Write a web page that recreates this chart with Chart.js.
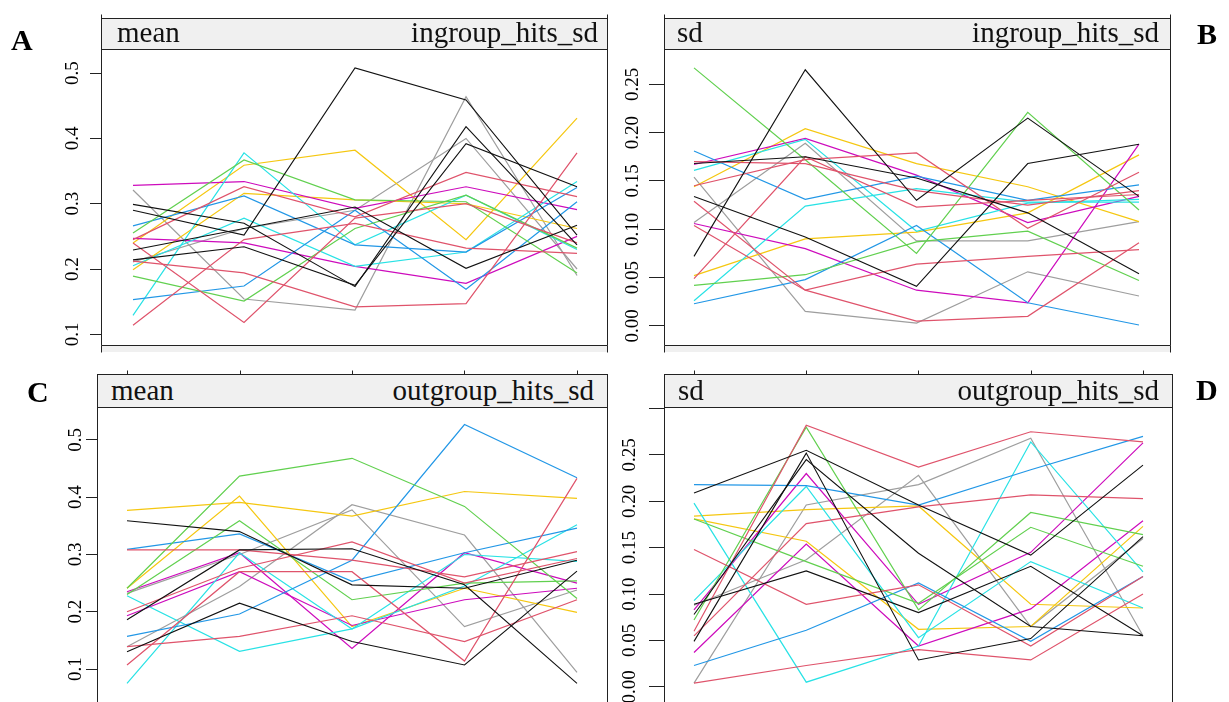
<!DOCTYPE html>
<html><head><meta charset="utf-8">
<script src="https://cdn.jsdelivr.net/npm/chart.js@4.4.0/dist/chart.umd.min.js"></script>
<style>
html,body{margin:0;padding:0;background:#fff;width:1229px;height:702px;overflow:hidden;position:relative}
canvas{position:absolute}
.strip{position:absolute;box-sizing:border-box;border:1px solid #222;background:#f0f0f0;overflow:visible}
.st{position:absolute;font-family:"Liberation Serif","Times New Roman",serif;font-size:29px;line-height:29px;color:#111;white-space:nowrap}
.letter{position:absolute;font-family:"Liberation Serif","Times New Roman",serif;font-weight:bold;font-size:30px;line-height:30px;color:#000}
</style></head><body>

<canvas id="cA" width="600" height="360" style="left:40px;top:0px"></canvas>
<canvas id="cB" width="600" height="360" style="left:600px;top:0px"></canvas>
<canvas id="cC" width="600" height="360" style="left:40px;top:360px"></canvas>
<canvas id="cD" width="600" height="360" style="left:600px;top:360px"></canvas>

<div class="strip" style="left:101px;top:18px;width:507px;height:32px"><span class="st" style="left:15px;top:-1.3px">mean</span><span class="st" style="right:9px;top:-1.3px">ingroup_hits_sd</span></div>
<div class="strip" style="left:664px;top:18px;width:507px;height:32px"><span class="st" style="left:12px;top:-1.3px">sd</span><span class="st" style="right:11px;top:-1.3px">ingroup_hits_sd</span></div>
<div class="strip" style="left:97px;top:374px;width:511px;height:34px"><span class="st" style="left:13px;top:0.7px">mean</span><span class="st" style="right:13px;top:0.7px">outgroup_hits_sd</span></div>
<div class="strip" style="left:664px;top:374px;width:509px;height:34px"><span class="st" style="left:13px;top:0.7px">sd</span><span class="st" style="right:13px;top:0.7px">outgroup_hits_sd</span></div>

<div class="letter" style="left:11px;top:25px">A</div>
<div class="letter" style="left:1197px;top:19px">B</div>
<div class="letter" style="left:27px;top:377px">C</div>
<div class="letter" style="left:1196px;top:375px">D</div>

<script>
// ---------- data ----------
const xCategories = [1, 2, 3, 4, 5];

const ticksMean = [0.1, 0.2, 0.3, 0.4, 0.5];
const tickLabelsMean = ["0.1", "0.2", "0.3", "0.4", "0.5"];
const ticksSdIn = [0, 0.05, 0.10, 0.15, 0.20, 0.25];
const tickLabelsSdIn = ["0.00", "0.05", "0.10", "0.15", "0.20", "0.25"];
const ticksSdOut = [0, 0.05, 0.10, 0.15, 0.20, 0.25, 0.30];
const tickLabelsSdOut = ["0.00", "0.05", "0.10", "0.15", "0.20", "0.25", ""];

// colour key of every series (k black, r red, g green, b blue, c cyan, m magenta, y yellow, s grey)
const keysA = ["k","k","k","k","r","r","r","r","g","g","b","b","c","c","m","m","y","y","s","s"];
const ingroupMean = [
  [0.290, 0.252, 0.508, 0.459, 0.252],
  [0.299, 0.270, 0.173, 0.418, 0.237],
  [0.214, 0.234, 0.175, 0.392, 0.326],
  [0.229, 0.262, 0.295, 0.201, 0.267],
  [0.245, 0.326, 0.280, 0.348, 0.311],
  [0.212, 0.194, 0.142, 0.147, 0.378],
  [0.114, 0.245, 0.270, 0.232, 0.224],
  [0.240, 0.118, 0.278, 0.300, 0.240],
  [0.255, 0.367, 0.306, 0.303, 0.194],
  [0.189, 0.151, 0.262, 0.313, 0.232],
  [0.266, 0.312, 0.237, 0.226, 0.325],
  [0.153, 0.174, 0.290, 0.169, 0.303],
  [0.129, 0.378, 0.237, 0.313, 0.230],
  [0.205, 0.278, 0.204, 0.226, 0.334],
  [0.328, 0.334, 0.293, 0.326, 0.291],
  [0.247, 0.240, 0.204, 0.178, 0.250],
  [0.240, 0.359, 0.382, 0.245, 0.431],
  [0.199, 0.316, 0.306, 0.300, 0.262],
  [0.321, 0.154, 0.137, 0.464, 0.190],
  [0.211, 0.262, 0.290, 0.400, 0.200]
];

const keysB = ["k","k","k","r","r","r","r","r","g","g","b","b","c","c","m","m","y","y","s","s"];
const ingroupSd = [
  [0.072, 0.265, 0.130, 0.215, 0.134],
  [0.134, 0.092, 0.041, 0.168, 0.188],
  [0.168, 0.175, 0.153, 0.117, 0.054],
  [0.145, 0.172, 0.179, 0.101, 0.159],
  [0.170, 0.168, 0.140, 0.125, 0.140],
  [0.129, 0.037, 0.064, 0.072, 0.079],
  [0.049, 0.175, 0.123, 0.130, 0.136],
  [0.104, 0.037, 0.005, 0.010, 0.086],
  [0.267, 0.172, 0.075, 0.221, 0.120],
  [0.042, 0.053, 0.087, 0.098, 0.047],
  [0.181, 0.131, 0.155, 0.130, 0.146],
  [0.023, 0.048, 0.104, 0.024, 0.001],
  [0.161, 0.193, 0.098, 0.127, 0.131],
  [0.026, 0.124, 0.142, 0.128, 0.128],
  [0.167, 0.194, 0.156, 0.107, 0.134],
  [0.106, 0.080, 0.037, 0.024, 0.188],
  [0.144, 0.204, 0.168, 0.144, 0.108],
  [0.052, 0.090, 0.097, 0.117, 0.177],
  [0.154, 0.015, 0.003, 0.056, 0.031],
  [0.107, 0.189, 0.088, 0.088, 0.108]
];

const keysC = ["k","k","k","r","r","r","r","g","g","b","b","c","c","m","m","y","y","s","s"];
const outgroupMean = [
  [0.359, 0.340, 0.247, 0.241, 0.290],
  [0.186, 0.308, 0.310, 0.247, 0.075],
  [0.130, 0.215, 0.148, 0.107, 0.271],
  [0.308, 0.308, 0.290, 0.261, 0.305],
  [0.200, 0.276, 0.322, 0.250, 0.293],
  [0.107, 0.270, 0.270, 0.114, 0.433],
  [0.139, 0.157, 0.193, 0.148, 0.221],
  [0.241, 0.437, 0.468, 0.384, 0.223],
  [0.230, 0.359, 0.221, 0.250, 0.254],
  [0.157, 0.196, 0.290, 0.527, 0.434],
  [0.309, 0.336, 0.253, 0.303, 0.346],
  [0.075, 0.303, 0.170, 0.300, 0.288],
  [0.228, 0.131, 0.170, 0.245, 0.352],
  [0.235, 0.303, 0.136, 0.303, 0.250],
  [0.193, 0.270, 0.176, 0.221, 0.241],
  [0.377, 0.391, 0.367, 0.410, 0.398],
  [0.241, 0.402, 0.174, 0.241, 0.199],
  [0.139, 0.244, 0.387, 0.334, 0.094],
  [0.232, 0.300, 0.378, 0.174, 0.238]
];

const keysD = ["k","k","k","k","r","r","r","r","g","g","b","b","c","c","m","m","y","y","s","s"];
const outgroupSd = [
  [0.209, 0.255, 0.196, 0.142, 0.239],
  [0.049, 0.252, 0.029, 0.052, 0.162],
  [0.089, 0.125, 0.080, 0.130, 0.055],
  [0.078, 0.245, 0.144, 0.065, 0.055],
  [0.060, 0.282, 0.237, 0.275, 0.264],
  [0.148, 0.089, 0.110, 0.044, 0.119],
  [0.004, 0.023, 0.040, 0.029, 0.100],
  [0.055, 0.176, 0.194, 0.207, 0.203],
  [0.072, 0.280, 0.083, 0.188, 0.164],
  [0.181, 0.135, 0.090, 0.172, 0.130],
  [0.218, 0.217, 0.196, 0.234, 0.270],
  [0.023, 0.061, 0.112, 0.049, 0.119],
  [0.198, 0.005, 0.044, 0.264, 0.124],
  [0.093, 0.216, 0.053, 0.135, 0.085],
  [0.083, 0.230, 0.089, 0.145, 0.263],
  [0.037, 0.154, 0.044, 0.084, 0.179],
  [0.184, 0.191, 0.195, 0.089, 0.085],
  [0.181, 0.157, 0.062, 0.065, 0.173],
  [0.004, 0.196, 0.218, 0.268, 0.055],
  [0.088, 0.137, 0.228, 0.065, 0.160]
];

// ---------- styles ----------
const palette = { k: "#111111", r: "#DF536B", g: "#61D04F", b: "#2297E6", c: "#28E2E5", m: "#CD0BBC", y: "#F5C710", s: "#9E9E9E" };

const decor = {
  id: "decor",
  afterDraw(chart, args, o) {
    const { ctx, chartArea: a, scales } = chart;
    const xs = scales.x, ys = scales.y;
    ctx.save();
    ctx.strokeStyle = "#222";
    ctx.lineWidth = 1;
    const L = Math.round(a.left) + 0.5, R = Math.round(a.right) + 0.5;
    const T = Math.round(a.top) + 0.5, B = Math.round(a.bottom) + 0.5;
    ctx.beginPath();
    ctx.moveTo(L, T); ctx.lineTo(R, T); ctx.lineTo(R, B); ctx.lineTo(L, B); ctx.closePath();
    ctx.stroke();
    if (o.bottomStub) {
      ctx.fillStyle = "#f0f0f0";
      ctx.fillRect(L, B + 0.5, R - L, 6);
      ctx.beginPath();
      ctx.moveTo(L, B); ctx.lineTo(L, B + 7);
      ctx.moveTo(R, B); ctx.lineTo(R, B + 7);
      ctx.stroke();
      const st = T - o.stripH;
      ctx.beginPath();
      ctx.moveTo(L, st - 4); ctx.lineTo(L, st);
      ctx.moveTo(R, st - 4); ctx.lineTo(R, st);
      ctx.stroke();
    }
    if (o.topTicks) {
      const st = T - o.stripH;
      ctx.beginPath();
      xCategories.forEach(c => {
        const px = Math.round(xs.getPixelForValue(c)) + 0.5;
        ctx.moveTo(px, st - 4); ctx.lineTo(px, st);
      });
      ctx.stroke();
    }
    ctx.fillStyle = "#000";
    ctx.font = '19px "Liberation Serif", "Times New Roman", serif';
    ctx.textAlign = "center";
    ctx.textBaseline = "middle";
    o.tickVals.forEach((v, i) => {
      const lab = o.tickLabels[i];
      if (!lab) return;
      const py = ys.getPixelForValue(v);
      ctx.save();
      ctx.translate(a.left - o.labelOffset, py);
      ctx.rotate(-Math.PI / 2);
      ctx.fillText(lab, 0, 1);
      ctx.restore();
    });
    ctx.restore();
  }
};

function buildPanel(id, series, keys, tickVals, tickLabels, yMin, yMax, xMin, xMax, axisW, tickLen, labelOffset, pad, topTicks, stripH) {
  const datasets = series.map((vals, i) => ({
    data: vals.map((v, j) => ({ x: xCategories[j], y: v })),
    borderColor: palette[keys[i]],
    borderWidth: keys[i] === "k" ? 1.1 : 1.2,
    pointRadius: 0,
    fill: false,
    tension: 0
  }));
  new Chart(document.getElementById(id), {
    type: "line",
    data: { datasets },
    options: {
      responsive: false,
      animation: false,
      devicePixelRatio: 1,
      events: [],
      layout: { padding: pad },
      plugins: {
        legend: { display: false },
        tooltip: { enabled: false },
        decor: { tickVals, tickLabels, labelOffset, topTicks, bottomStub: !topTicks, stripH }
      },
      scales: {
        x: { type: "linear", min: xMin, max: xMax, display: false },
        y: {
          type: "linear", min: yMin, max: yMax, position: "left",
          afterFit(s) { s.width = axisW; },
          afterBuildTicks(s) { s.ticks = tickVals.map(v => ({ value: v })); },
          ticks: { display: false },
          grid: { display: true, drawOnChartArea: false, drawTicks: true, tickLength: tickLen, color: "#222", lineWidth: 1 },
          border: { display: false }
        }
      }
    },
    plugins: [decor]
  });
}

buildPanel("cA", ingroupMean, keysA, ticksMean, tickLabelsMean, 0.0836, 0.537, 0.7117, 5.270, 61, 11, 29,
  { top: 49, right: 33, bottom: 15, left: 0 }, false, 31);
buildPanel("cB", ingroupSd, keysB, ticksSdIn, tickLabelsSdIn, -0.0197, 0.2865, 0.7303, 5.2787, 64, 15, 32,
  { top: 49, right: 30, bottom: 15, left: 0 }, false, 31);
buildPanel("cC", outgroupMean, keysC, ticksMean, tickLabelsMean, 0.0284, 0.5576, 0.7333, 5.2667, 57, 11, 22,
  { top: 47, right: 33, bottom: 10, left: 0 }, true, 33);
buildPanel("cD", outgroupSd, keysD, ticksSdOut, tickLabelsSdOut, -0.025, 0.3017, 0.7327, 5.2584, 64, 15, 35,
  { top: 47, right: 28, bottom: 10, left: 0 }, true, 33);
</script>
</body></html>
